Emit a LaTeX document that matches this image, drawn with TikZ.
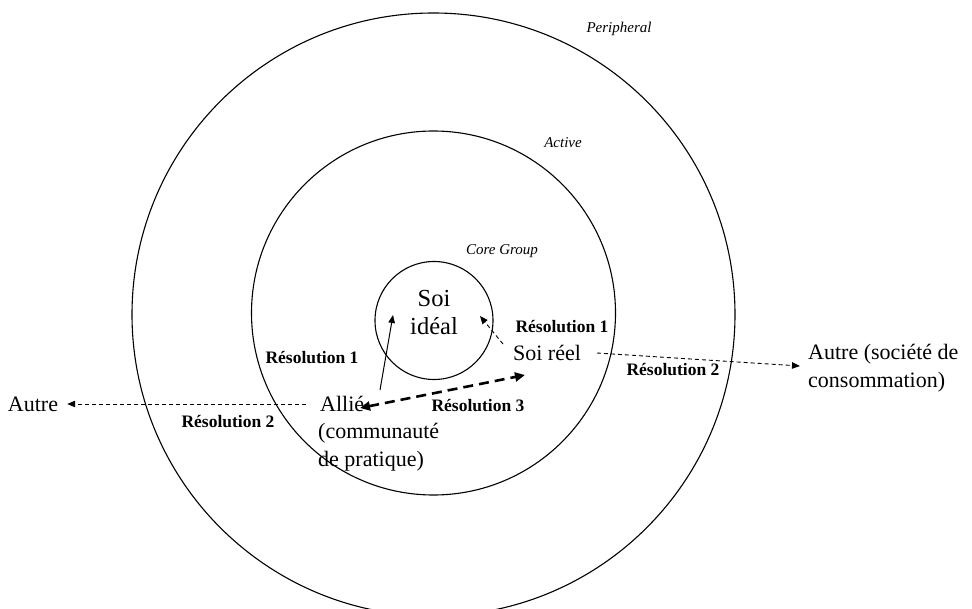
\documentclass[tikz,border=0pt]{standalone}
\usepackage{fontspec}
\setmainfont{Liberation Serif}
\usetikzlibrary{arrows.meta}
\begin{document}
\begin{tikzpicture}[x=1pt,y=-1pt,
  ring/.style={circle, draw, line width=1.1pt, inner sep=0pt},
  main/.style={font=\fontsize{22}{28}\selectfont, inner sep=0pt},
  big/.style={font=\fontsize{24.5}{28}\selectfont, inner sep=0pt, align=center},
  res/.style={font=\fontsize{17.5}{21}\selectfont\bfseries, inner sep=0pt},
  zone/.style={font=\fontsize{15}{18}\selectfont\itshape, inner sep=0pt},
  tip/.style={-{Triangle[length=8pt,width=6.5pt]}},
  thinarrow/.style={tip, line width=0.9pt, dash pattern=on 4pt off 3pt},
  solidarrow/.style={tip, line width=1pt},
  thickarrow/.style={{Triangle[length=10pt,width=9pt]}-{Triangle[length=10pt,width=9pt]},
    line width=2.6pt, dash pattern=on 10pt off 6pt}
]
\useasboundingbox (0,0) rectangle (972,609);

% three concentric zones
\node[ring, minimum size=603pt] (peripheral) at (433.5,314.5) {};
\node[ring, minimum size=364pt] (active) at (433.5,313) {};
\node[ring, minimum size=118pt] (core) at (434,320.5) {};

% zone names
\node[zone] (lperipheral) at (619,29) {Peripheral};
\node[zone] (lactive) at (563,143) {Active};
\node[zone] (lcore) at (502,251) {Core Group};

% actors
\node[big] (ideal) at (434,313) {Soi\\idéal};
\node[main] (reel) at (547,353) {Soi réel};
\node[main, anchor=west, align=left] (societe) at (808,368) {Autre (société de\\consommation)};
\node[main] (autre) at (33,404) {Autre};
\node[main, anchor=west] (allie) at (320,404) {Allié};
\node[main, anchor=west, align=left] (communaute) at (318,447) {(communauté\\de pratique)};

% resolution labels
\node[res] (r1a) at (562,327) {Résolution 1};
\node[res] (r1b) at (312,358) {Résolution 1};
\node[res] (r2a) at (673,370) {Résolution 2};
\node[res] (r2b) at (228,422) {Résolution 2};
\node[res] (r3) at (478,406) {Résolution 3};

% arrow end points
\coordinate (allieup) at (380,390);
\coordinate (idealtip) at (393,315);
\coordinate (reelup) at (503,344);
\coordinate (idealtip2) at (480,316);
\coordinate (alliemid) at (360,408);
\coordinate (reelmid) at (525,375);
\coordinate (reelright) at (597,353);
\coordinate (societetip) at (800,366);

% connectors
\draw[thinarrow, shorten <=14pt, shorten >=9pt] (allie.west) -- (autre.east);
\draw[solidarrow] (allieup) -- (idealtip);
\draw[thinarrow] (reelup) -- (idealtip2);
\draw[thickarrow] (alliemid) -- (reelmid);
\draw[thinarrow] (reelright) -- (societetip);
\end{tikzpicture}
\end{document}
